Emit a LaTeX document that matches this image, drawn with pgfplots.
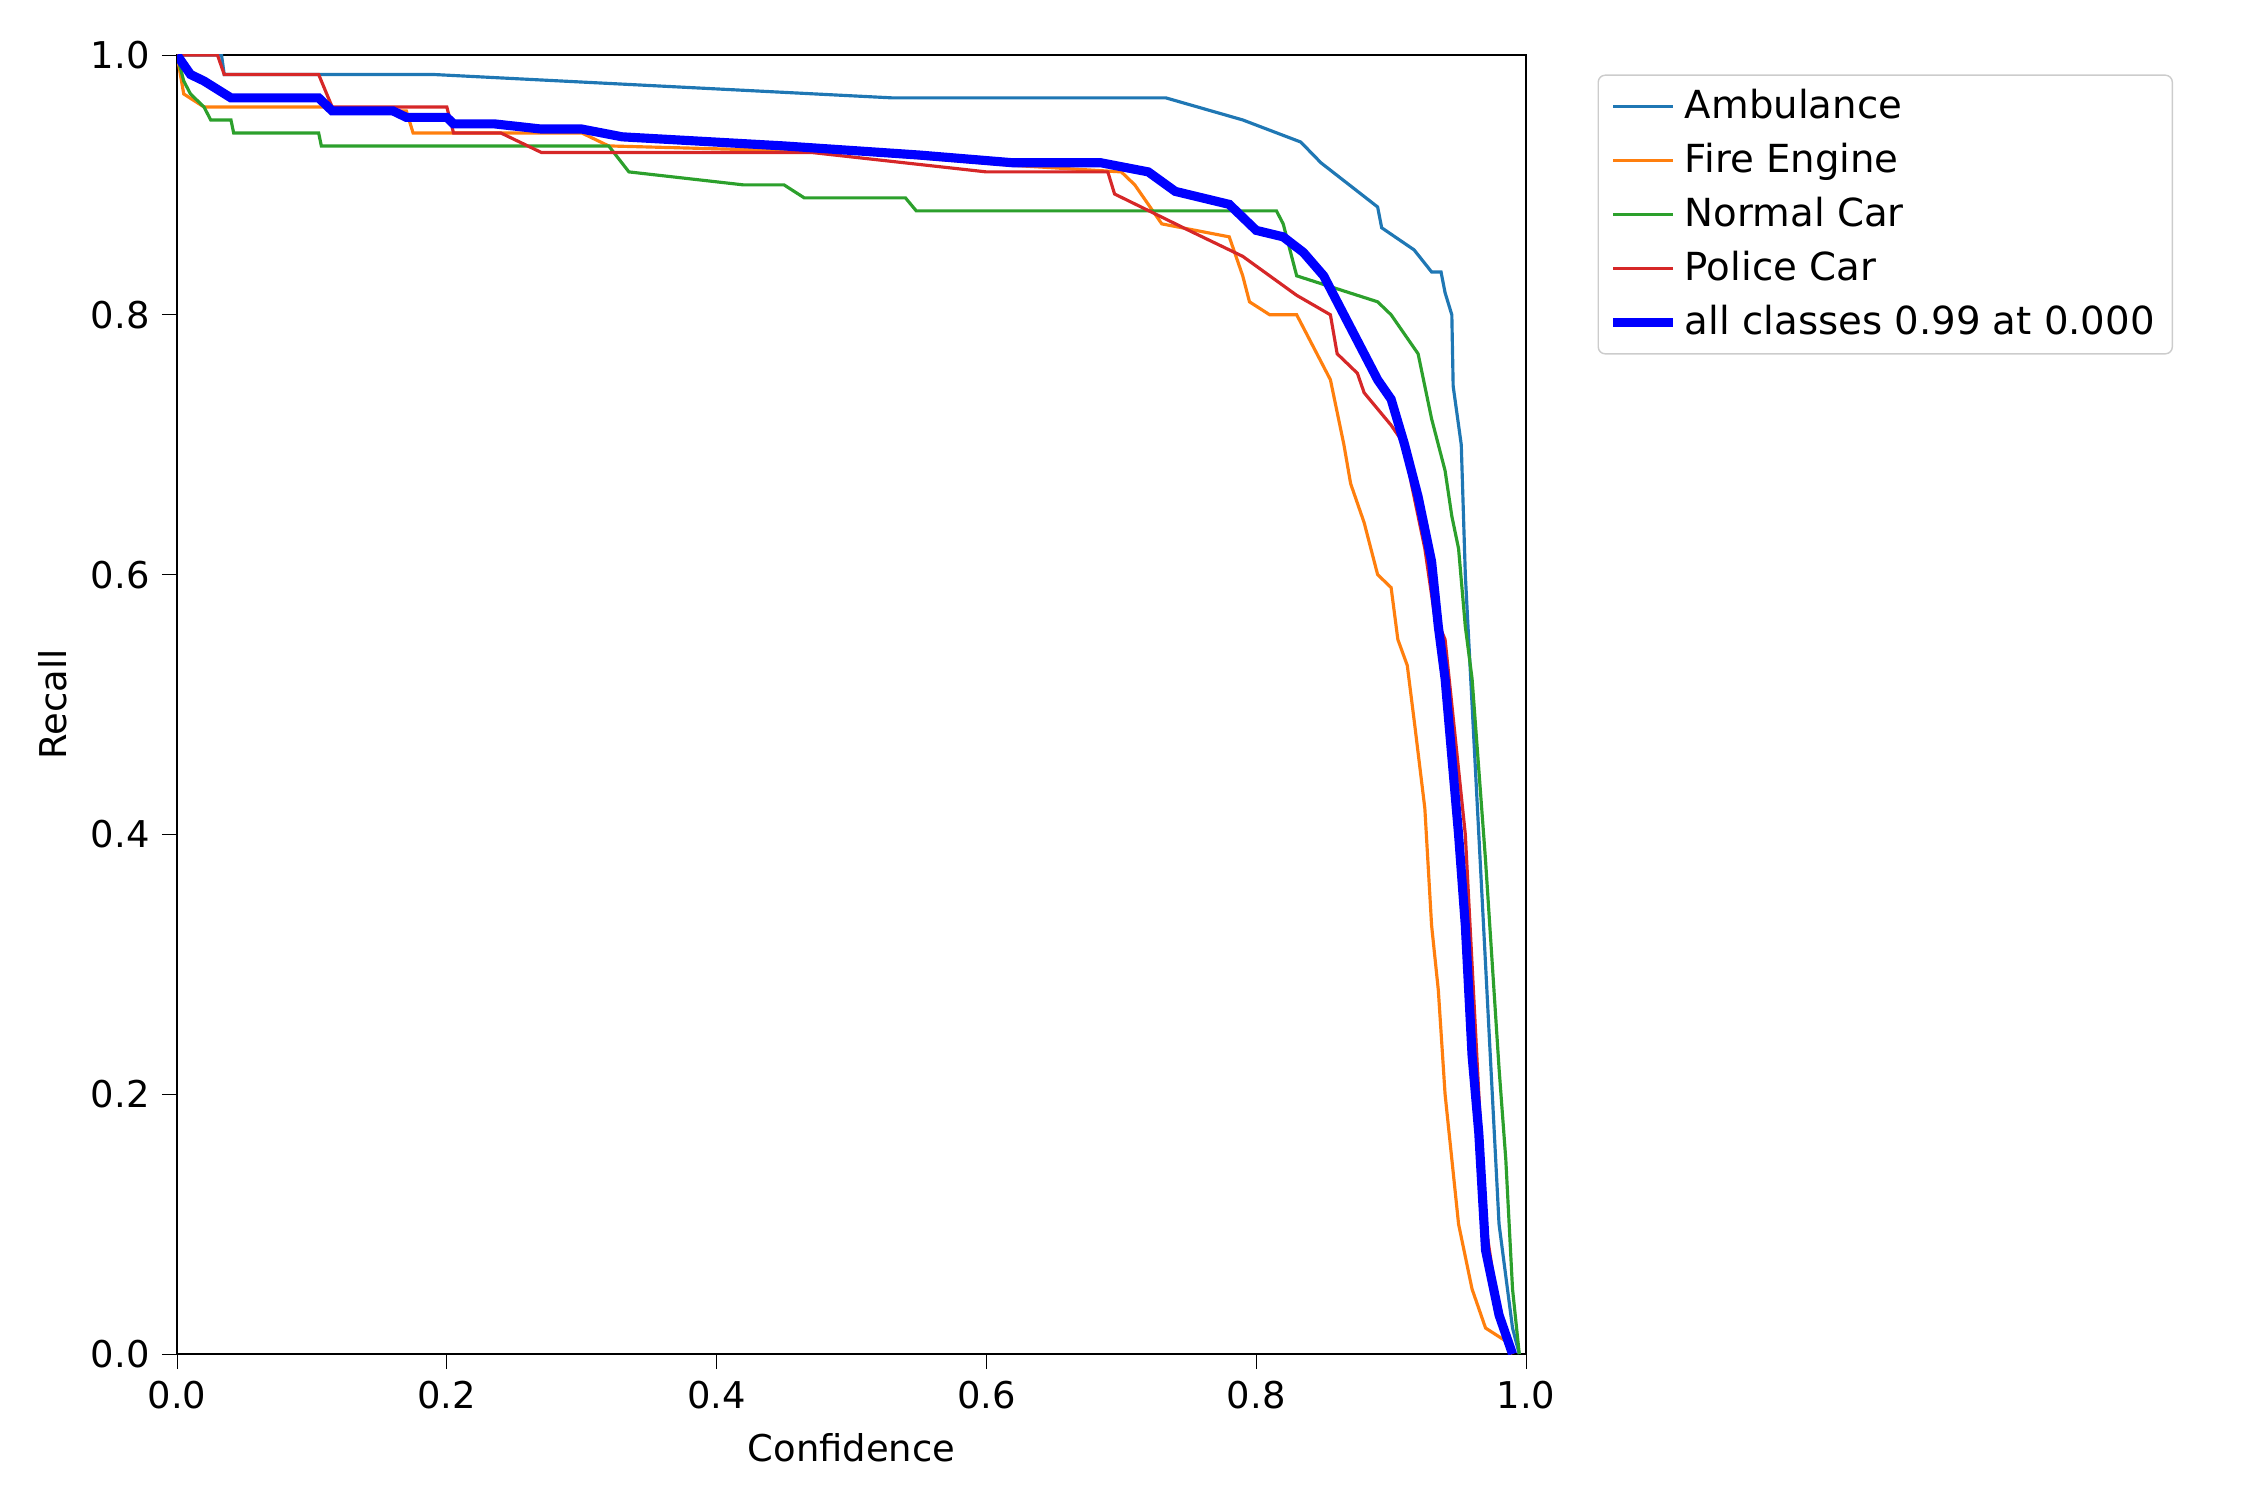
\documentclass[border=0pt]{standalone}
\usepackage{pgfplots}
\pgfplotsset{compat=1.18}
\usepackage{fontspec}
\setmainfont{DejaVu Sans}
\definecolor{c0}{HTML}{1F77B4}
\definecolor{c1}{HTML}{FF7F0E}
\definecolor{c2}{HTML}{2CA02C}
\definecolor{c3}{HTML}{D62728}
\begin{document}
\begin{tikzpicture}
\useasboundingbox (-1.77,-1.46) rectangle (20.73,13.54);
\begin{axis}[at={(0,0)},anchor=south west,scale only axis,width=13.49cm,height=12.99cm,
xmin=0,xmax=1,ymin=0,ymax=1,
xtick={0,0.2,...,1.0},ytick={0,0.2,...,1.0},
xticklabel style={/pgf/number format/.cd,fixed,fixed zerofill,precision=1},
yticklabel style={/pgf/number format/.cd,fixed,fixed zerofill,precision=1},
/pgf/number format/assume math mode=true,
tick align=outside,tick style={black},
xtick pos=bottom,ytick pos=left,
font=\fontsize{10.5}{12}\selectfont,
xlabel={Confidence},ylabel={Recall},
legend style={at={(1.053,0.985)},anchor=north west,draw=black!20,rounded corners=2pt,font=\fontsize{11}{15}\selectfont,row sep=1.5pt},
legend cell align=left,
]
\addplot[c0,line width=0.9pt] coordinates {(0,1)(0.033,1)(0.035,0.985)(0.19,0.985)(0.53,0.967)(0.733,0.967)(0.79,0.95)(0.833,0.933)(0.848,0.917)(0.89,0.883)(0.893,0.867)(0.917,0.85)(0.93,0.833)(0.937,0.833)(0.94,0.817)(0.945,0.8)(0.946,0.745)(0.952,0.7)(0.955,0.6)(0.96,0.5)(0.965,0.4)(0.97,0.3)(0.975,0.2)(0.98,0.1)(0.99,0.02)(0.995,0)};
\addlegendentry{Ambulance}
\addplot[c1,line width=0.9pt] coordinates {(0,1)(0.005,0.97)(0.02,0.96)(0.11,0.96)(0.115,0.957)(0.17,0.957)(0.175,0.94)(0.3,0.94)(0.32,0.93)(0.5,0.925)(0.62,0.915)(0.7,0.91)(0.71,0.9)(0.73,0.87)(0.78,0.86)(0.79,0.83)(0.795,0.81)(0.81,0.8)(0.83,0.8)(0.845,0.77)(0.855,0.75)(0.865,0.7)(0.87,0.67)(0.88,0.64)(0.89,0.6)(0.9,0.59)(0.905,0.55)(0.912,0.53)(0.918,0.48)(0.925,0.42)(0.93,0.33)(0.935,0.28)(0.94,0.2)(0.945,0.15)(0.95,0.1)(0.96,0.05)(0.97,0.02)(0.985,0.01)(0.99,0)};
\addlegendentry{Fire Engine}
\addplot[c2,line width=0.9pt] coordinates {(0,1)(0.005,0.98)(0.01,0.97)(0.02,0.96)(0.025,0.95)(0.04,0.95)(0.042,0.94)(0.105,0.94)(0.107,0.93)(0.32,0.93)(0.335,0.91)(0.42,0.9)(0.45,0.9)(0.465,0.89)(0.54,0.89)(0.548,0.88)(0.815,0.88)(0.82,0.87)(0.83,0.83)(0.89,0.81)(0.9,0.8)(0.91,0.785)(0.92,0.77)(0.93,0.72)(0.94,0.68)(0.945,0.645)(0.95,0.62)(0.955,0.56)(0.96,0.52)(0.965,0.45)(0.97,0.38)(0.975,0.3)(0.98,0.22)(0.985,0.15)(0.99,0.05)(0.995,0)};
\addlegendentry{Normal Car}
\addplot[c3,line width=0.9pt] coordinates {(0,1)(0.03,1)(0.035,0.985)(0.105,0.985)(0.115,0.96)(0.2,0.96)(0.205,0.94)(0.24,0.94)(0.27,0.925)(0.47,0.925)(0.6,0.91)(0.69,0.91)(0.695,0.893)(0.75,0.865)(0.79,0.845)(0.83,0.815)(0.855,0.8)(0.86,0.77)(0.875,0.755)(0.88,0.74)(0.9,0.715)(0.91,0.7)(0.915,0.67)(0.925,0.62)(0.932,0.57)(0.94,0.55)(0.945,0.5)(0.95,0.45)(0.955,0.4)(0.96,0.3)(0.965,0.2)(0.97,0.1)(0.98,0.03)(0.99,0)};
\addlegendentry{Police Car}
\addplot[blue,line width=2.6pt] coordinates {(0,1)(0.01,0.985)(0.02,0.98)(0.04,0.967)(0.105,0.967)(0.115,0.957)(0.16,0.957)(0.17,0.952)(0.2,0.952)(0.205,0.947)(0.235,0.947)(0.27,0.943)(0.3,0.943)(0.33,0.937)(0.45,0.93)(0.55,0.923)(0.62,0.917)(0.685,0.917)(0.72,0.91)(0.74,0.895)(0.78,0.885)(0.8,0.865)(0.82,0.86)(0.835,0.848)(0.85,0.83)(0.865,0.8)(0.88,0.77)(0.89,0.75)(0.9,0.735)(0.91,0.7)(0.92,0.66)(0.93,0.61)(0.935,0.56)(0.94,0.52)(0.945,0.46)(0.95,0.4)(0.955,0.33)(0.96,0.23)(0.965,0.17)(0.97,0.08)(0.98,0.03)(0.99,0)};
\addlegendentry{all classes 0.99 at 0.000}
\end{axis}
\end{tikzpicture}
\end{document}
